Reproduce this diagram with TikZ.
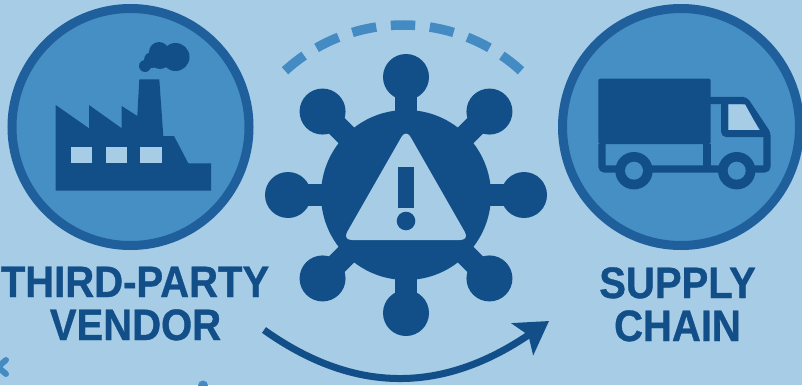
\documentclass[tikz,border=0pt]{standalone}
\usepackage{fontspec}
\setmainfont{Liberation Sans}[FakeStretch=0.91, BoldFeatures={FakeBold=0.8}]
\usepackage{xcolor}
\usetikzlibrary{arrows.meta}
\definecolor{skyback}{HTML}{A6CCE6}
\definecolor{discblue}{HTML}{468FC5}
\definecolor{ringblue}{HTML}{1F5F9B}
\definecolor{deepblue}{HTML}{124E87}
\definecolor{dashblue}{HTML}{448AC3}
\tikzset{
  badge/.style={circle, draw=ringblue, fill=discblue, line width=9pt,
    minimum size=237pt, inner sep=0pt},
  caption/.style={font=\fontsize{44}{44}\selectfont\bfseries, text=deepblue,
    inner sep=0pt, anchor=base},
}
\begin{document}
\begin{tikzpicture}[x=1pt, y=-1pt]
  \useasboundingbox[fill=skyback] (0,0) rectangle (802,385);

  % Badges
  \node[badge] (vendorbadge) at (130.5,127) {};
  \node[badge] (chainbadge) at (681,127) {};

  % Factory
  \fill[deepblue] (55.7,190.7) -- (55.7,105) -- (89,128.3) -- (89,105)
    -- (121.7,128.3) -- (121.7,106) -- (137.3,116) -- (139.3,79.3)
    -- (159.3,79.3) -- (163.3,136) -- (174,136) -- (188.3,163.3)
    -- (211,163.3) -- (211,190.7) -- cycle;
  \foreach \wx in {71,105.7,140.3}
    \fill[skyback] (\wx,146.7) rectangle ++(21.2,16.7);
  % Smoke
  \fill[deepblue] (145,66) circle (6pt);
  \fill[deepblue] (152,60) circle (8pt);
  \fill[deepblue] (159,52) circle (10pt);
  \fill[deepblue] (160,58) circle (11pt);
  \fill[deepblue] (175.5,57) circle (14pt);

  % Truck
  \fill[deepblue, rounded corners=2pt] (598.3,78.7) rectangle (710.7,144);
  \draw[deepblue, line width=7.3pt, rounded corners=3pt]
    (601.9,144) -- (601.9,169) -- (767,169) -- (767,133.5)
    -- (745,100.5) -- (707,100.5);
  \draw[deepblue, line width=7.3pt] (707,144) -- (707,169);
  \fill[skyback] (728.3,104.3) -- (745,104.3) -- (759.3,130) -- (728.3,130) -- cycle;
  \draw[deepblue, line width=7pt, rounded corners=2pt]
    (724.7,100.5) -- (724.7,133.5) -- (765,133.5);
  \foreach \wx in {634,736.7} {
    \fill[deepblue] (\wx,170.7) circle (18.7pt);
    \fill[discblue] (\wx,170.7) circle (9pt);
  }

  % Spiked ball
  \fill[deepblue] (406,195) circle (85pt);
  \foreach \ang in {0,45,...,315} {
    \draw[deepblue, line width=22pt] (406,195) -- ++(\ang:118);
    \fill[deepblue] (406,195) ++(\ang:118) circle (23pt);
  }
  \fill[skyback, rounded corners=9pt]
    (406,129) -- (342.6,240) -- (469.4,240) -- cycle;
  \fill[deepblue] (398.3,167) rectangle (414.3,208);
  \fill[deepblue] (406,221) circle (9.3pt);

  % Dashes above
  \foreach \ang in {51.6,64.4,77.2,90,102.8,115.6,128.4}
    \draw[dashblue, line width=9.5pt]
      (403,200) ++(-\ang+4:175) arc[start angle=\ang-4, end angle=\ang+4, radius=175pt];

  % Flow arrow
  \coordinate (flowstart) at (264,330);
  \coordinate (flowend) at (549,321);
  \draw[deepblue, line width=7pt, -{Stealth[length=32pt, width=38pt, inset=7pt]}]
    (flowstart) .. controls (354,394) and (442,394) .. (flowend);

  % Stray marks
  \draw[dashblue, line width=6pt, line cap=round] (-2,367) -- (6,360) (-2,367) -- (6,374);
  \fill[dashblue] (203,385.5) circle (5pt);

  % Labels
  \node[caption] (vendorline) at (135,297) {THIRD-PARTY};
  \node[caption] (vendorname) at (135.5,340) {VENDOR};
  \node[caption] (supplyline) at (677.5,298) {SUPPLY};
  \node[caption] (chainline) at (677.5,341) {CHAIN};
\end{tikzpicture}
\end{document}
